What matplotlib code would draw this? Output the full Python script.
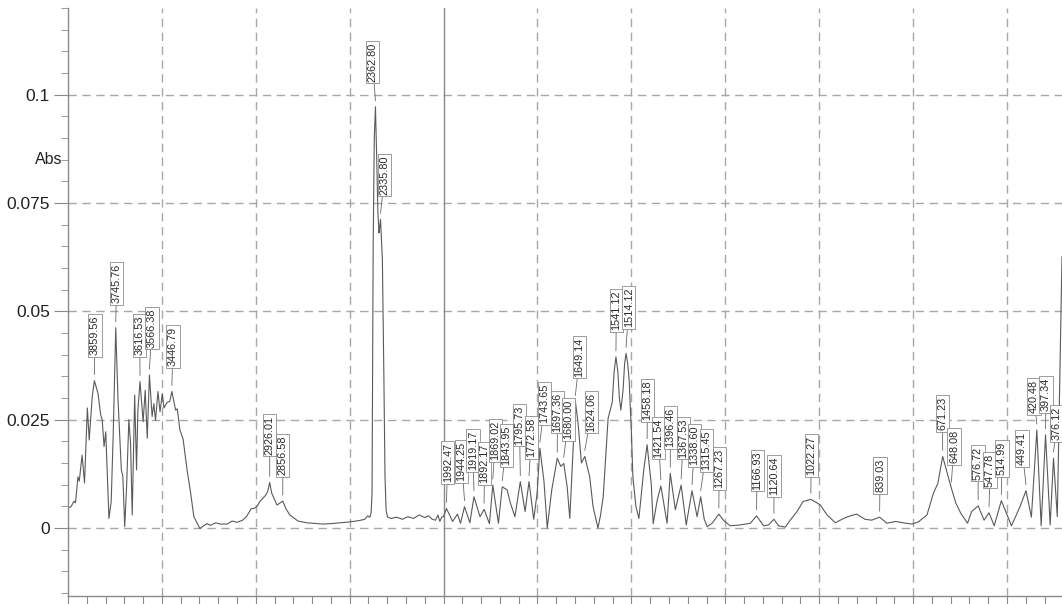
import numpy as np
import matplotlib
matplotlib.use('Agg')
import matplotlib.pyplot as plt
from matplotlib.ticker import FixedLocator, MultipleLocator, FuncFormatter

plt.rcParams['font.family'] = ['Liberation Sans', 'DejaVu Sans']

# espectro (numero de onda cm-1, absorbancia)
wn = [4000, 3984, 3968, 3960, 3947, 3940, 3925, 3912, 3897, 3887, 3871, 3859.56, 3840, 3826,
      3818, 3808, 3799, 3782, 3770, 3759, 3745.76, 3734, 3716, 3708, 3698, 3688, 3676, 3667,
      3658, 3645, 3635, 3628, 3616.53, 3600, 3589, 3578, 3566.38, 3552, 3543, 3534, 3521, 3510,
      3498, 3489, 3472, 3458, 3446.79, 3427, 3418, 3404, 3387, 3366, 3347, 3330, 3312, 3298,
      3277, 3260, 3241, 3214, 3188, 3153, 3126, 3100, 3070, 3050, 3025, 3005, 2990, 2979, 2961,
      2947, 2936, 2926.01, 2915, 2887, 2856.58, 2840, 2819, 2775, 2730, 2644, 2600, 2553, 2500,
      2450, 2420, 2404, 2392, 2386, 2381, 2378, 2375, 2369, 2362.80, 2356, 2350, 2344, 2340,
      2335.80, 2326, 2318, 2312, 2306, 2298, 2280, 2250, 2220, 2190, 2160, 2130, 2100, 2080,
      2060, 2043, 2030, 2020, 2010, 2001, 1996, 1992.47, 1984, 1976, 1963, 1955, 1944.25, 1930,
      1919.17, 1903, 1892.17, 1878, 1869.02, 1854, 1843.95, 1831, 1822, 1810, 1795.73, 1783,
      1772.58, 1760, 1751, 1743.65, 1733, 1724, 1712, 1697.36, 1688, 1680.00, 1671, 1664, 1655,
      1649.14, 1642, 1633, 1624.06, 1611, 1602, 1589, 1582, 1575, 1568, 1562, 1551, 1546,
      1541.12, 1536, 1532, 1528, 1522, 1518, 1514.12, 1510, 1506, 1500, 1496, 1488, 1480, 1467,
      1458.18, 1447, 1442, 1431, 1421.54, 1405, 1396.46, 1383, 1367.53, 1354, 1338.60, 1325,
      1315.45, 1306, 1298, 1285, 1267.23, 1254, 1237, 1210, 1183, 1166.93, 1148, 1135, 1120.64,
      1108, 1090, 1077, 1059, 1043, 1030, 1022.27, 1010, 997, 979, 957, 935, 917, 900, 878, 860,
      839.03, 820, 796, 770, 753, 736, 713, 696, 684, 671.23, 659, 648.08, 636, 623, 605, 594,
      576.72, 561, 547.78, 534, 514.99, 502, 488, 465, 449.41, 435, 420.48, 409, 397.34, 385,
      376.12, 366, 353.5]
ab = [0.0046, 0.0049, 0.0062, 0.0058, 0.0118, 0.0108, 0.0168, 0.0104, 0.0277, 0.0203, 0.0303,
      0.0340, 0.0310, 0.0261, 0.0250, 0.0188, 0.0222, 0.0022, 0.0061, 0.0220, 0.0462, 0.0300,
      0.0134, 0.0120, 0.0003, 0.0095, 0.0250, 0.0196, 0.0030, 0.0307, 0.0134, 0.0270, 0.0338,
      0.0245, 0.0318, 0.0207, 0.0353, 0.0257, 0.0287, 0.0248, 0.0315, 0.0268, 0.0310, 0.0277,
      0.0290, 0.0292, 0.0315, 0.0272, 0.0275, 0.0226, 0.0205, 0.0134, 0.0081, 0.0026, 0.0011,
      -0.0001, 0.0005, 0.0010, 0.0006, 0.0012, 0.0009, 0.0009, 0.0016, 0.0013, 0.0018, 0.0026,
      0.0044, 0.0046, 0.0052, 0.0061, 0.0069, 0.0076, 0.0085, 0.0105, 0.0080, 0.0053, 0.0062,
      0.0045, 0.0030, 0.0016, 0.0012, 0.0009, 0.0010, 0.0012, 0.0014, 0.0017, 0.0020, 0.0028,
      0.0025, 0.0035, 0.0080, 0.0350, 0.0650, 0.0900, 0.0972, 0.0850, 0.0730, 0.0681, 0.0695,
      0.0712, 0.0620, 0.0350, 0.0120, 0.0040, 0.0025, 0.0022, 0.0025, 0.0020, 0.0026, 0.0022,
      0.0030, 0.0024, 0.0028, 0.0020, 0.0018, 0.0030, 0.0015, 0.0025, 0.0026, 0.0036, 0.0045,
      0.0030, 0.0015, 0.0032, 0.0011, 0.0049, 0.0012, 0.0072, 0.0026, 0.0043, 0.0010, 0.0099,
      0.0011, 0.0095, 0.0088, 0.0057, 0.0026, 0.0107, 0.0038, 0.0107, 0.0020, 0.0080, 0.0184,
      0.0110, 0.0000, 0.0088, 0.0161, 0.0142, 0.0149, 0.0095, 0.0022, 0.0188, 0.0292, 0.0242,
      0.0150, 0.0165, 0.0118, 0.0049, 0.0000, 0.0030, 0.0072, 0.0170, 0.0253, 0.0290, 0.0360,
      0.0395, 0.0360, 0.0300, 0.0272, 0.0320, 0.0380, 0.0403, 0.0380, 0.0342, 0.0220, 0.0118,
      0.0050, 0.0022, 0.0134, 0.0192, 0.0100, 0.0010, 0.0065, 0.0097, 0.0011, 0.0126, 0.0042,
      0.0099, 0.0007, 0.0086, 0.0026, 0.0072, 0.0020, 0.0003, 0.0011, 0.0032, 0.0017, 0.0005,
      0.0007, 0.0011, 0.0028, 0.0005, 0.0007, 0.0020, 0.0005, 0.0002, 0.0018, 0.0038, 0.0061,
      0.0064, 0.0066, 0.0060, 0.0053, 0.0030, 0.0012, 0.0022, 0.0028, 0.0032, 0.0020, 0.0018,
      0.0025, 0.0011, 0.0015, 0.0011, 0.0009, 0.0014, 0.0030, 0.0080, 0.0103, 0.0165, 0.0126,
      0.0092, 0.0057, 0.0034, 0.0011, 0.0038, 0.0051, 0.0018, 0.0035, 0.0005, 0.0063, 0.0035,
      0.0005, 0.0050, 0.0086, 0.0025, 0.0226, 0.0005, 0.0215, 0.0007, 0.0161, 0.0026, 0.0626]

# picos marcados
peak_labels = ['3859.56', '3745.76', '3616.53', '3566.38', '3446.79', '2926.01', '2856.58',
               '2362.80', '2335.80', '1992.47', '1944.25', '1919.17', '1892.17', '1869.02',
               '1843.95', '1795.73', '1772.58', '1743.65', '1697.36', '1680.00', '1649.14',
               '1624.06', '1541.12', '1514.12', '1458.18', '1421.54', '1396.46', '1367.53',
               '1338.60', '1315.45', '1267.23', '1166.93', '1120.64', '1022.27', '839.03',
               '671.23', '648.08', '576.72', '547.78', '514.99', '449.41', '420.48', '397.34',
               '376.12']

# onde fica cada caixa de texto (layout)
label_x = [3856, 3741, 3618, 3553, 3441, 2926, 2856, 2378, 2314, 1989, 1952, 1922, 1891, 1862,
           1833, 1798, 1766, 1731, 1697, 1668, 1638, 1606, 1540, 1507, 1457, 1428, 1396, 1362,
           1332, 1300, 1266, 1165, 1120, 1021, 838, 672, 641, 577, 545, 513, 460, 428, 396, 367]
label_y = [0.0399, 0.0519, 0.0399, 0.0416, 0.0374, 0.0169, 0.0122, 0.1030, 0.0769, 0.0106,
           0.0108, 0.0134, 0.0104, 0.0157, 0.0145, 0.0192, 0.0164, 0.0242, 0.0222, 0.0205,
           0.0349, 0.0222, 0.0457, 0.0464, 0.0249, 0.0162, 0.0187, 0.0162, 0.0145, 0.0134,
           0.0092, 0.0088, 0.0076, 0.0122, 0.0083, 0.0226, 0.0150, 0.0111, 0.0095, 0.0122,
           0.0145, 0.0265, 0.0270, 0.0203]


# escala do eixo x: acima de 2000 cm-1 comprimida pela metade
def fwd(w):
    w = np.asarray(w, dtype=float)
    return np.where(w > 2000, 2000 + (w - 2000) / 2.0, w)


def inv(u):
    u = np.asarray(u, dtype=float)
    return np.where(u > 2000, 2000 + (u - 2000) * 2.0, u)


fig = plt.figure(figsize=(10.62, 6.04), dpi=100)
ax = fig.add_axes([68 / 1062, 8 / 604, 994 / 1062, 588 / 604])
ax.set_xscale('function', functions=(fwd, inv))
ax.set_xlim(4000, 353.5)
ax.set_ylim(-0.0157, 0.12)

gray = '#8a8a8a'
for s in ['top', 'right']:
    ax.spines[s].set_visible(False)
for s in ['left', 'bottom']:
    ax.spines[s].set_color(gray)
    ax.spines[s].set_linewidth(1.0)

# grade tracejada
for xv in [3500, 3000, 2500, 1750, 1500, 1250, 1000, 750, 500]:
    ax.axvline(xv, color='#a8a8a8', lw=1.0, ls=(0, (6, 4)), zorder=0)
for yv in [0, 0.025, 0.05, 0.075, 0.1]:
    ax.axhline(yv, color='#a8a8a8', lw=1.0, ls=(0, (6, 4)), zorder=0)
ax.axvline(2000, color='#8a8a8a', lw=1.0, zorder=0)

# ticks
xt = np.concatenate([np.arange(4000, 1999, -100), np.arange(1950, 353, -50)])
ax.xaxis.set_major_locator(FixedLocator(xt))
ax.tick_params(axis='x', which='both', direction='out', length=7, color=gray, labelbottom=False)
ax.yaxis.set_major_locator(MultipleLocator(0.025))
ax.yaxis.set_minor_locator(MultipleLocator(0.005))
ax.yaxis.set_major_formatter(FuncFormatter(lambda v, p: f'{v:g}'))
ax.tick_params(axis='y', which='major', length=10, color=gray, pad=3, labelsize=12.5, labelcolor='#222222')
ax.tick_params(axis='y', which='minor', length=5, color=gray)

ax.text(-0.019, 0.085, 'Abs', transform=ax.get_yaxis_transform(), ha='center', va='center',
        fontsize=11.5, color='#222222')

ax.plot(wn, ab, color='#5a5a5a', lw=0.8)

# rotulos dos picos
wn_r = np.array(wn)[::-1]
ab_r = np.array(ab)[::-1]
for lab, tx, ty in zip(peak_labels, label_x, label_y):
    pw = float(lab)
    pa = np.interp(pw, wn_r, ab_r)
    ax.annotate(lab, xy=(pw, pa + 0.0014), xytext=(tx, ty), rotation=90, ha='center', va='bottom',
                fontsize=7.8, color='#2a2a2a', annotation_clip=False,
                bbox=dict(boxstyle='square,pad=0.15', fc='white', ec='#8c8c8c', lw=0.6),
                arrowprops=dict(arrowstyle='-', color='#666666', lw=0.6, shrinkA=0, shrinkB=0))

plt.savefig('out.png', dpi=100)
